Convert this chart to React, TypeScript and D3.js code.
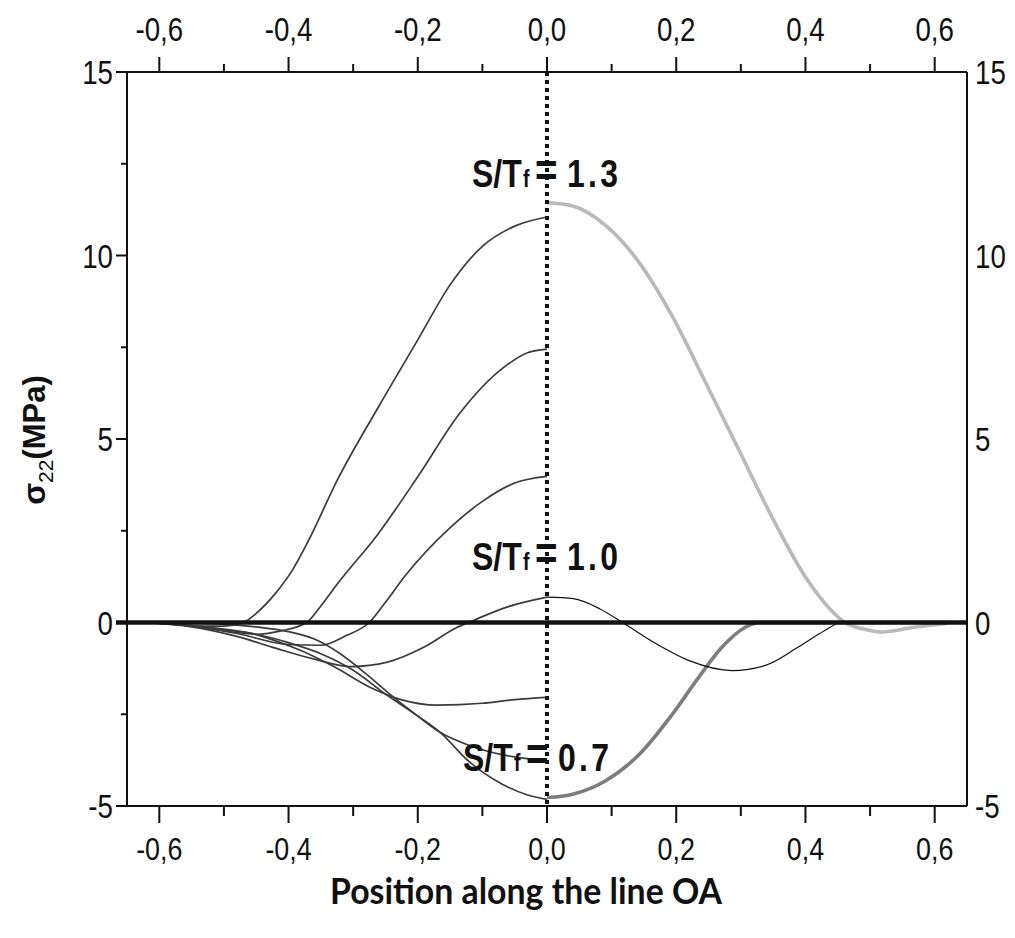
import React from 'react';
import * as d3 from 'd3';

// ---- axis ticks ----
const xTickValues = [-0.6, -0.4, -0.2, 0, 0.2, 0.4, 0.6];
const xTickLabels = ['-0,6', '-0,4', '-0,2', '0,0', '0,2', '0,4', '0,6'];
const xMinorTicks = [-0.5, -0.3, -0.1, 0.1, 0.3, 0.5];
const yTickValues = [-5, 0, 5, 10, 15];
const yTickLabels = ['-5', '0', '5', '10', '15'];
const yMinorTicks = [-2.5, 2.5, 7.5, 12.5];

// ---- left side family (x <= 0), S/Tf = 1.3 ... 0.7 ----
const leftX13 = [-0.62, -0.58, -0.54, -0.5, -0.47, -0.45, -0.42, -0.395, -0.37, -0.324, -0.26, -0.2, -0.15, -0.1, -0.05, 0];
const leftY13 = [0, -0.03, -0.1, -0.1, 0, 0.25, 0.8, 1.4, 2.2, 3.9, 5.9, 7.7, 9.2, 10.25, 10.8, 11.05];

const leftX12 = [-0.62, -0.56, -0.5, -0.45, -0.41, -0.372, -0.35, -0.324, -0.262, -0.2, -0.135, -0.067, -0.03, 0];
const leftY12 = [0, -0.08, -0.22, -0.32, -0.22, 0, 0.45, 1.06, 2.4, 3.97, 5.7, 6.95, 7.35, 7.45];

const leftX11 = [-0.62, -0.55, -0.48, -0.4, -0.35, -0.31, -0.275, -0.25, -0.221, -0.149, -0.1, -0.05, 0];
const leftY11 = [0, -0.1, -0.3, -0.6, -0.62, -0.35, 0, 0.55, 1.24, 2.6, 3.3, 3.8, 3.98];

const leftX10 = [-0.62, -0.55, -0.48, -0.42, -0.36, -0.303, -0.247, -0.19, -0.139, -0.115, -0.062, 0];
const leftY10 = [0, -0.12, -0.38, -0.7, -1.0, -1.2, -1.08, -0.67, -0.13, 0.05, 0.42, 0.69];

const leftX09 = [-0.62, -0.55, -0.5, -0.457, -0.42, -0.38, -0.33, -0.27, -0.226, -0.17, -0.1, -0.05, 0];
const leftY09 = [0, -0.1, -0.2, -0.3, -0.5, -0.77, -1.2, -1.8, -2.1, -2.25, -2.2, -2.1, -2.04];

const leftX08 = [-0.62, -0.5, -0.45, -0.4, -0.36, -0.32, -0.28, -0.24, -0.2, -0.165, -0.12, -0.07, 0];
const leftY08 = [0, -0.05, -0.12, -0.25, -0.45, -0.85, -1.4, -2.0, -2.55, -3.0, -3.35, -3.6, -3.77];

const leftX07 = [-0.62, -0.55, -0.5, -0.45, -0.4, -0.35, -0.3, -0.25, -0.2, -0.165, -0.12, -0.07, -0.03, 0];
const leftY07 = [0, -0.08, -0.18, -0.32, -0.55, -0.85, -1.3, -1.95, -2.55, -3.0, -3.8, -4.4, -4.7, -4.82];

// ---- right side (x >= 0) ----
const rightX13 = [0, 0.04, 0.092, 0.143, 0.194, 0.246, 0.297, 0.348, 0.4, 0.44, 0.461, 0.49, 0.517, 0.569, 0.62];
const rightY13 = [11.44, 11.35, 10.8, 9.8, 8.34, 6.52, 4.7, 2.88, 1.24, 0.33, 0, -0.18, -0.26, -0.13, -0.02];

const rightX10 = [0, 0.041, 0.082, 0.117, 0.169, 0.22, 0.287, 0.338, 0.389, 0.43, 0.456, 0.5, 0.62];
const rightY10 = [0.69, 0.65, 0.37, 0, -0.58, -1.04, -1.31, -1.17, -0.67, -0.22, 0, 0, 0];

const rightX07 = [0, 0.04, 0.09, 0.143, 0.194, 0.235, 0.271, 0.307, 0.328, 0.4, 0.62];
const rightY07 = [-4.77, -4.68, -4.32, -3.59, -2.5, -1.49, -0.67, -0.13, 0, 0, 0];

const leftSeries = [
  [leftX13, leftY13],
  [leftX12, leftY12],
  [leftX11, leftY11],
  [leftX10, leftY10],
  [leftX09, leftY09],
  [leftX08, leftY08],
  [leftX07, leftY07],
];

const ratioLabels = ['1.3', '1.0', '0.7'];
const ratioBaselines = [187, 570, 771];
const ratioShift = [0, 0, -9];

const W = 1015;
const H = 938;
const SANS = "'Liberation Sans', Arial, sans-serif";
const SX = 0.82;

function NText(props: { x: number; y: number; anchor?: string; size: number; sx?: number; weight?: string; children: React.ReactNode }) {
  const { x, y, anchor = 'start', size, sx = 0.84, weight = 'normal', children } = props;
  return (
    <text
      transform={`translate(${x},${y}) scale(${sx},1)`}
      textAnchor={anchor}
      fontFamily={SANS}
      fontSize={size}
      fontWeight={weight}
      fill="#111"
    >
      {children}
    </text>
  );
}

export default function App() {
  const x = d3.scaleLinear().domain([-0.65, 0.65]).range([127, 967]);
  const y = d3.scaleLinear().domain([-5, 15]).range([806, 72]);
  const [x0, x1] = x.range();
  const [yb, yt] = y.range();

  const line = (xs: number[], ys: number[]) =>
    d3
      .line<number>()
      .x((_, i) => x(xs[i]))
      .y((d) => y(d))
      .curve(d3.curveMonotoneX)(ys) as string;

  return (
    <svg width={W} height={H} style={{ position: 'absolute', left: 0, top: 0, background: '#fff' }}>
      <rect x={0} y={0} width={W} height={H} fill="#fff" />

      {/* left family */}
      {leftSeries.map(([xs, ys], i) => (
        <path key={i} d={line(xs, ys)} fill="none" stroke="#3c3c3c" strokeWidth={1.7} />
      ))}

      {/* right curves */}
      <path d={line(rightX13, rightY13)} fill="none" stroke="#b9b9b9" strokeWidth={3.6} />
      <path d={line(rightX07, rightY07)} fill="none" stroke="#7d7d7d" strokeWidth={3.6} />
      <path d={line(rightX10, rightY10)} fill="none" stroke="#111" strokeWidth={1.2} />

      {/* zero line */}
      <line x1={x0 - 11} x2={x1} y1={y(0)} y2={y(0)} stroke="#111" strokeWidth={4.5} />

      {/* dotted center line */}
      <line x1={x(0)} x2={x(0)} y1={yt} y2={yb} stroke="#111" strokeWidth={4} strokeDasharray="4 4" />

      {/* frame */}
      <line x1={x0} x2={x1} y1={yt} y2={yt} stroke="#111" strokeWidth={2} />
      <line x1={x0 - 11} x2={x1} y1={yb} y2={yb} stroke="#111" strokeWidth={2} />
      <line x1={x0} x2={x0} y1={yt} y2={yb} stroke="#111" strokeWidth={2} />
      <line x1={x1} x2={x1} y1={yt} y2={yb} stroke="#111" strokeWidth={2} />

      {/* top ticks */}
      {xTickValues.map((v, i) => (
        <g key={'tt' + i}>
          <line x1={x(v)} x2={x(v)} y1={yt} y2={yt - 15} stroke="#111" strokeWidth={2} />
          <NText x={x(v)} y={41} anchor="middle" size={33}>{xTickLabels[i]}</NText>
        </g>
      ))}
      {xMinorTicks.map((v, i) => (
        <line key={'tm' + i} x1={x(v)} x2={x(v)} y1={yt} y2={yt - 8} stroke="#111" strokeWidth={2} />
      ))}

      {/* bottom ticks */}
      {xTickValues.map((v, i) => (
        <g key={'bt' + i}>
          <line x1={x(v)} x2={x(v)} y1={yb} y2={yb + 17} stroke="#111" strokeWidth={2} />
          <NText x={x(v)} y={860} anchor="middle" size={32}>{xTickLabels[i]}</NText>
        </g>
      ))}
      {xMinorTicks.map((v, i) => (
        <line key={'bm' + i} x1={x(v)} x2={x(v)} y1={yb} y2={yb + 10} stroke="#111" strokeWidth={2} />
      ))}

      {/* left / right tick labels */}
      {yTickValues.map((v, i) => (
        <g key={'lt' + i}>
          <line x1={x0} x2={x0 - 11} y1={y(v)} y2={y(v)} stroke="#111" strokeWidth={2} />
          <NText x={x0 - 14} y={y(v) + 12} anchor="end" size={33}>{yTickLabels[i]}</NText>
          <NText x={x1 + 8} y={y(v) + 12} anchor="start" size={33}>{yTickLabels[i]}</NText>
        </g>
      ))}
      {yMinorTicks.map((v, i) => (
        <line key={'lm' + i} x1={x0} x2={x0 - 6} y1={y(v)} y2={y(v)} stroke="#111" strokeWidth={2} />
      ))}

      {/* ratio labels (one text element each, horizontally condensed) */}
      {ratioLabels.map((lab, i) => {
        const by = ratioBaselines[i];
        const cx = x(0) + ratioShift[i];
        return (
          <text
            key={'rl' + i}
            transform={`translate(${cx},${by}) scale(${SX},1)`}
            fontFamily={SANS}
            fontWeight="bold"
            fill="#111"
          >
            <tspan x={-75 / SX} fontSize={39}>S/T</tspan>
            <tspan x={-24 / SX} fontSize={24}>f</tspan>
            <tspan x={-12 / SX} fontSize={47} dy={-1}>=</tspan>
            <tspan x={20 / SX} fontSize={39} dy={1} letterSpacing={4}>{lab}</tspan>
          </text>
        );
      })}

      {/* y label */}
      <text transform="translate(45,440) rotate(-90)" textAnchor="middle" fill="#111" fontFamily={SANS}>
        <tspan fontSize={32} fontWeight="bold">σ</tspan>
        <tspan fontSize={21} dy={8}>22</tspan>
        <tspan fontSize={31} fontWeight="bold" dy={-8}>(MPa)</tspan>
      </text>

      {/* x label */}
      <text x={330} y={904} fontFamily="'Lato', 'Open Sans', sans-serif" fontWeight="bold" fontSize={36} fill="#111" textLength={392} lengthAdjust="spacingAndGlyphs">
        Position along the line OA
      </text>
    </svg>
  );
}
